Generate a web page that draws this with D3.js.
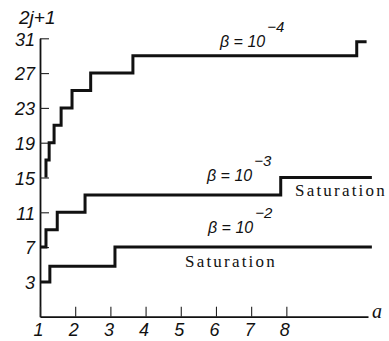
<!DOCTYPE html>
<html>
<head>
<meta charset="utf-8">
<script src="https://cdnjs.cloudflare.com/ajax/libs/d3/7.8.5/d3.min.js"></script>
<style>
body { margin: 0; background: #fff; }
svg { display: block; }
.num { font-family: "Liberation Sans Narrow", "Liberation Sans", sans-serif; font-style: italic; font-size: 17px; fill: #111; }
.beta { font-family: "Liberation Sans", sans-serif; font-style: italic; font-size: 16px; fill: #111; }
.sat { font-family: "Liberation Serif", serif; font-size: 17px; letter-spacing: 2.2px; fill: #111; }
</style>
</head>
<body>
<div id="canvas"></div>
<script>
var outerWidth = 389, outerHeight = 341;

// tick values
var yTicks = [3, 7, 11, 15, 19, 23, 27, 31];
var xTicks = [1, 2, 3, 4, 5, 6, 7, 8];

// beta = 1e-4 : step positions (a) and levels (2j+1)
var a4 = [1.17, 1.17, 1.26, 1.40, 1.60, 1.91, 2.44, 3.64, 10.0, 10.28];
var v4 = [15, 17, 19, 21, 23, 25, 27, 29, 30.6, 30.6];
// beta = 1e-3
var a3 = [1.0, 1.17, 1.49, 2.28, 7.84, 10.43];
var v3 = [7, 9, 11, 13, 15, 15];
// beta = 1e-2
var a2 = [1.0, 1.28, 3.13, 10.43];
var v2 = [3, 4.8, 7, 7];

var svg = d3.select('#canvas')
    .append('svg')
    .attr('width', outerWidth)
    .attr('height', outerHeight);

var scaleX = d3.scaleLinear()
    .domain([1, 10.32])
    .range([40, 368]);

var scaleY = d3.scaleLinear()
    .domain([-1, 31])
    .range([316.7, 38.3]);

var axisY = d3.axisLeft(scaleY)
    .tickValues(yTicks)
    .tickSizeInner(-9)
    .tickSizeOuter(0)
    .tickPadding(5);

var axisX = d3.axisBottom(scaleX)
    .tickValues(xTicks)
    .tickSizeInner(-10)
    .tickSizeOuter(0)
    .tickPadding(7);

var gy = svg.append('g').attr('class', 'axis axis-y')
    .attr('transform', 'translate(40,0)')
    .call(axisY);

var gx = svg.append('g').attr('class', 'axis axis-x')
    .attr('transform', 'translate(0,316.7)')
    .call(axisX);

svg.selectAll('.axis').attr('font-family', null).attr('font-size', null);
svg.selectAll('.axis .domain').attr('stroke', '#111').attr('stroke-width', 1.8);
svg.selectAll('.axis .tick line').attr('stroke', '#222').attr('stroke-width', 1.1);
svg.selectAll('.axis .tick text').attr('class', 'num').attr('fill', null)
    .style('font-size', '18px');
gx.selectAll('.tick text').attr('x', -2);
gy.selectAll('.tick text').attr('dy', '0.38em');

// step lines
var line = d3.line()
    .x(function(d) { return scaleX(d[0]); })
    .y(function(d) { return scaleY(d[1]); })
    .curve(d3.curveStepAfter);

function zip(a, v) {
    return a.map(function(d, i) { return [d, v[i]]; });
}

[zip(a4, v4), zip(a3, v3), zip(a2, v2)].forEach(function(s) {
    svg.append('path')
        .datum(s)
        .attr('d', line)
        .attr('fill', 'none')
        .attr('stroke', '#111')
        .attr('stroke-width', 3)
        .attr('stroke-linejoin', 'miter');
});

// axis titles
svg.append('text').attr('class', 'num')
    .attr('x', 19).attr('y', 24)
    .style('font-size', '19px')
    .text('2j+1');

svg.append('text')
    .attr('x', 372).attr('y', 318)
    .style('font-family', '"Liberation Serif", serif')
    .style('font-style', 'italic')
    .style('font-size', '20px')
    .attr('fill', '#111')
    .text('a');

// beta labels
function betaLabel(x, y, exp) {
    var t = svg.append('text').attr('class', 'beta')
        .attr('x', x).attr('y', y);
    t.append('tspan').text('β = 10');
    t.append('tspan')
        .attr('dx', 2)
        .attr('dy', -15)
        .style('font-size', '15px')
        .text('−' + exp);
}
betaLabel(220, 47, 4);
betaLabel(207, 181, 3);
betaLabel(208, 233, 2);

svg.append('text').attr('class', 'sat')
    .attr('x', 295).attr('y', 196)
    .text('Saturation');
svg.append('text').attr('class', 'sat')
    .attr('x', 185).attr('y', 266.7)
    .text('Saturation');
</script>
</body>
</html>
